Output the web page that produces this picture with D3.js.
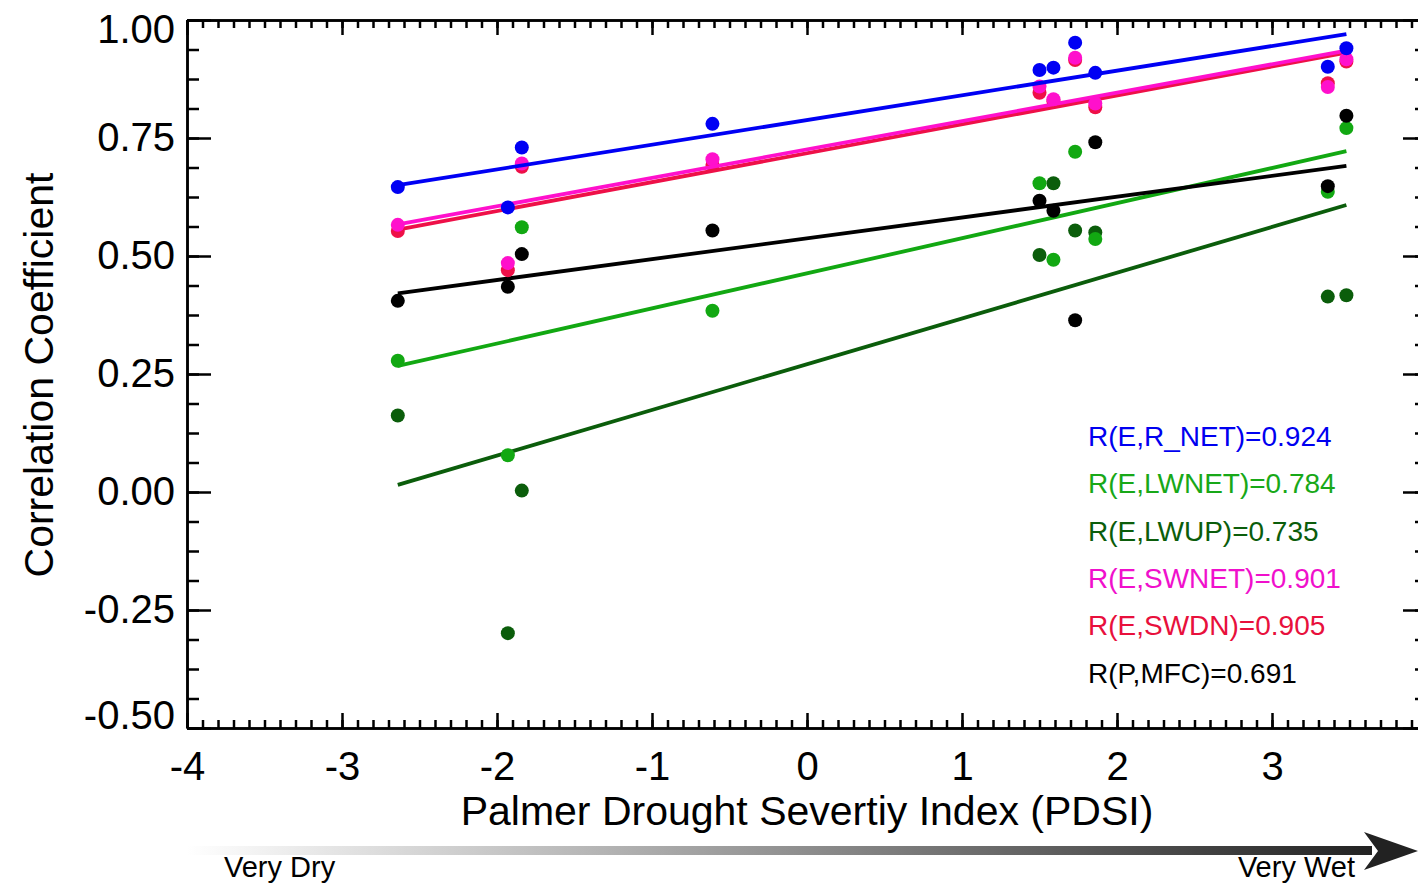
<!DOCTYPE html>
<html>
<head>
<meta charset="utf-8">
<script src="https://cdn.jsdelivr.net/npm/d3@7"></script>
<style>
  html, body { margin: 0; padding: 0; background: #fff; overflow: hidden; }
  svg { display: block; font-family: "Liberation Sans", Arial, sans-serif; }
  .axis path, .axis line { stroke: #000; stroke-width: 2.5; }
  .axis text { font-size: 40px; fill: #000; }
</style>
</head>
<body>
<svg id="chart"></svg>
<script>
// Datos
const pdsi = [-2.64, -1.93, -1.84, -0.61, 1.50, 1.59, 1.73, 1.86, 3.36, 3.48];

const rNet  = [0.646, 0.603, 0.730, 0.780, 0.894, 0.899, 0.952, 0.888, 0.901, 0.940];
const lwNet = [0.278, 0.078, 0.561, 0.384, 0.654, 0.492, 0.721, 0.536, 0.636, 0.771];
const lwUp  = [0.162, -0.299, 0.003, null, 0.502, 0.654, 0.554, 0.550, 0.414, 0.417];
const swNet = [0.566, 0.485, 0.696, 0.705, 0.859, 0.832, 0.920, 0.823, 0.858, 0.917];
const swDn  = [0.553, 0.470, 0.689, 0.693, 0.846, 0.828, 0.915, 0.815, 0.866, 0.912];
const mfc   = [0.405, 0.435, 0.504, 0.554, 0.617, 0.596, 0.364, 0.741, 0.648, 0.797];

// Rectas de ajuste: valor en el primer y último PDSI
const fitX = [-2.64, 3.48];
const fitRNet  = [0.650, 0.970];
const fitLwNet = [0.267, 0.722];
const fitLwUp  = [0.015, 0.608];
const fitSwNet = [0.567, 0.935];
const fitSwDn  = [0.556, 0.931];
const fitMfc   = [0.421, 0.691];

const legendLabels = [
  "R(E,R_NET)=0.924",
  "R(E,LWNET)=0.784",
  "R(E,LWUP)=0.735",
  "R(E,SWNET)=0.901",
  "R(E,SWDN)=0.905",
  "R(P,MFC)=0.691"
];

const xTicks = [-4, -3, -2, -1, 0, 1, 2, 3, 4];
const yTicks = [-0.5, -0.25, 0, 0.25, 0.5, 0.75, 1.0];

// Series en orden de dibujo (la última queda encima)
const series = [
  { values: lwUp,  fit: fitLwUp,  color: "#0b5d0b" },
  { values: lwNet, fit: fitLwNet, color: "#12a812" },
  { values: mfc,   fit: fitMfc,   color: "#000000" },
  { values: swDn,  fit: fitSwDn,  color: "#ee1048" },
  { values: swNet, fit: fitSwNet, color: "#ff10cc" },
  { values: rNet,  fit: fitRNet,  color: "#0000f4" }
];
const legendColors = ["#0000f0", "#18a818", "#0b5d0b", "#f010cc", "#e8103c", "#000000"];

// Geometría
const W = 1418, H = 885;
const plot = { left: 187, right: 1427, top: 20, bottom: 728 };

const svg = d3.select("#chart").attr("width", W).attr("height", H);

const x = d3.scaleLinear().domain([-4, 4]).range([plot.left, plot.right]);
const y = d3.scaleLinear().domain([-0.5, 1.0]).range([plot.bottom, plot.top]);

const xMinor = d3.range(-40, 41).map(d => d / 10);
const yMinor = d3.range(-8, 17).map(d => d * 0.0625);

// Ejes menores
svg.append("g").attr("class", "axis")
  .attr("transform", `translate(0,${plot.bottom})`)
  .call(d3.axisBottom(x).tickValues(xMinor).tickSize(-8).tickSizeOuter(0).tickFormat(""));
svg.append("g").attr("class", "axis")
  .attr("transform", `translate(0,${plot.top})`)
  .call(d3.axisTop(x).tickValues(xMinor).tickSize(-8).tickSizeOuter(0).tickFormat(""));
svg.append("g").attr("class", "axis")
  .attr("transform", `translate(${plot.left},0)`)
  .call(d3.axisLeft(y).tickValues(yMinor).tickSize(-12).tickSizeOuter(0).tickFormat(""));
svg.append("g").attr("class", "axis")
  .attr("transform", `translate(${plot.right},0)`)
  .call(d3.axisRight(y).tickValues(yMinor).tickSize(-12).tickSizeOuter(0).tickFormat(""));

// Ejes mayores
svg.append("g").attr("class", "axis")
  .attr("transform", `translate(0,${plot.bottom})`)
  .call(d3.axisBottom(x).tickValues(xTicks).tickSize(-15).tickSizeOuter(0).tickPadding(24)
    .tickFormat(d => d === 4 ? "" : d3.format("d")(d)));
svg.append("g").attr("class", "axis")
  .attr("transform", `translate(0,${plot.top})`)
  .call(d3.axisTop(x).tickValues(xTicks).tickSize(-15).tickSizeOuter(0).tickFormat(""));
const yAxisG = svg.append("g").attr("class", "axis")
  .attr("transform", `translate(${plot.left},0)`)
  .call(d3.axisLeft(y).tickValues(yTicks).tickSize(-24).tickSizeOuter(0).tickPadding(12).tickFormat(d3.format(".2f")));
svg.append("g").attr("class", "axis")
  .attr("transform", `translate(${plot.right},0)`)
  .call(d3.axisRight(y).tickValues(yTicks).tickSize(-24).tickSizeOuter(0).tickFormat(""));

// usar guion normal en negativos
svg.selectAll(".axis text").text(function () { return this.textContent.replace("\u2212", "-"); });
// las etiquetas extremas se desplazan hacia dentro, como en el original
yAxisG.selectAll(".tick text")
  .attr("y", d => d === 1.0 ? 10 : (d === -0.5 ? -12 : 0));

// Títulos de ejes
svg.append("text")
  .attr("transform", `translate(53,${(plot.top + plot.bottom) / 2 + 1}) rotate(-90)`)
  .attr("text-anchor", "middle")
  .style("font-size", "41px")
  .text("Correlation Coefficient");

svg.append("text")
  .attr("x", 807).attr("y", 825)
  .attr("text-anchor", "middle")
  .style("font-size", "41px")
  .text("Palmer Drought Severtiy Index (PDSI)");

// Series: puntos y rectas de ajuste
const fitLine = d3.line().x(d => x(d[0])).y(d => y(d[1]));

series.forEach(s => {
  const g = svg.append("g");
  g.selectAll("circle")
    .data(pdsi.map((p, i) => [p, s.values[i]]).filter(d => d[1] !== null))
    .enter().append("circle")
    .attr("cx", d => x(d[0]))
    .attr("cy", d => y(d[1]))
    .attr("r", 7)
    .attr("fill", s.color);
  g.append("path")
    .datum(fitX.map((p, i) => [p, s.fit[i]]))
    .attr("d", fitLine)
    .attr("fill", "none")
    .attr("stroke", s.color)
    .attr("stroke-width", 3.8);
});

// Leyenda con coeficientes
svg.append("g").selectAll("text")
  .data(legendLabels)
  .enter().append("text")
  .attr("x", 1088)
  .attr("y", (d, i) => 446 + i * 47.3)
  .style("font-size", "28px")
  .attr("fill", (d, i) => legendColors[i])
  .text(d => d);

// Flecha de seco a húmedo
const defs = svg.append("defs");
const grad = defs.append("linearGradient").attr("id", "arrowGrad");
grad.append("stop").attr("offset", "0%").attr("stop-color", "#ffffff");
grad.append("stop").attr("offset", "35%").attr("stop-color", "#b4b4b4");
grad.append("stop").attr("offset", "100%").attr("stop-color", "#222222");

svg.append("rect")
  .attr("x", plot.left).attr("y", 846)
  .attr("width", 1372 - plot.left).attr("height", 9)
  .attr("fill", "url(#arrowGrad)");
svg.append("path")
  .attr("d", "M1364,832 L1418,851 L1364,870 L1378,851 Z")
  .attr("fill", "#222");

svg.append("text").attr("x", 224).attr("y", 877)
  .style("font-size", "29px").text("Very Dry");
svg.append("text").attr("x", 1355).attr("y", 877)
  .attr("text-anchor", "end")
  .style("font-size", "29px").text("Very Wet");
</script>
</body>
</html>
